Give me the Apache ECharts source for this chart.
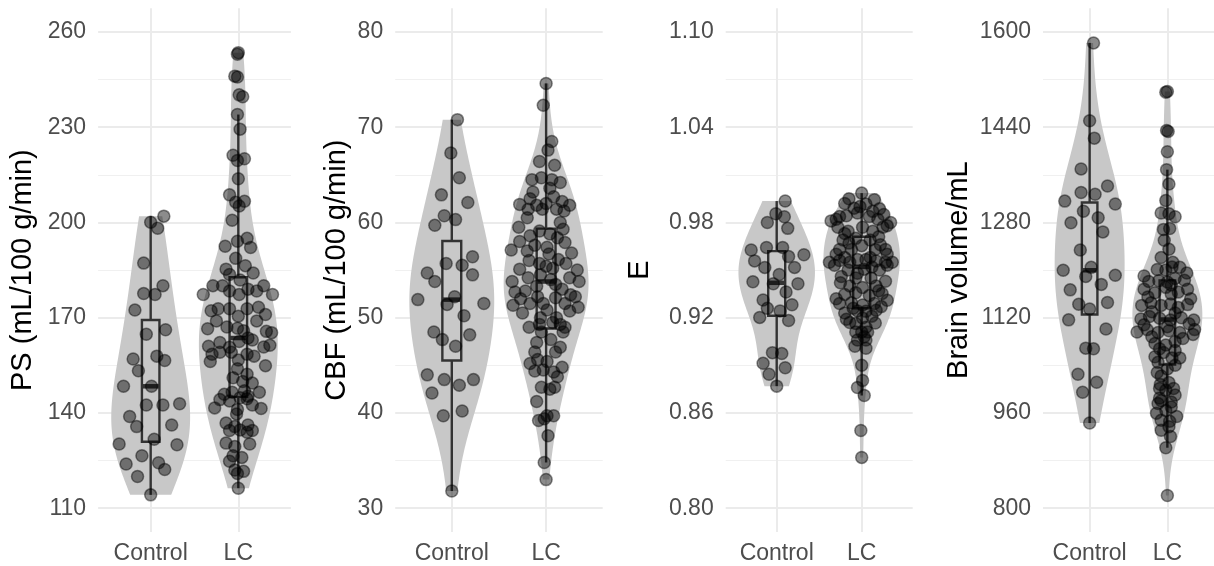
<!DOCTYPE html>
<html><head><meta charset="utf-8">
<script src="https://cdn.jsdelivr.net/npm/echarts@6/dist/echarts.min.js"></script>
<style>html,body{margin:0;padding:0;background:#fff}#c{width:1214px;height:566px}</style>
</head><body><div id="c"></div>
<script>
// ---------------- data ----------------
const categories = ['Control', 'LC'];

const psTicks = [110, 140, 170, 200, 230, 260];
const cbfTicks = [30, 40, 50, 60, 70, 80];
const eTicks = [0.80, 0.86, 0.92, 0.98, 1.04, 1.10];
const bvTicks = [800, 960, 1120, 1280, 1440, 1600];

const psTitle = 'PS (mL/100 g/min)';
const cbfTitle = 'CBF (mL/100 g/min)';
const eTitle = 'E';
const bvTitle = 'Brain volume/mL';

// PS
const psControl = [200.1,202.0,198.2,187.2,177.6,177.3,180.1,172.4,166.2,164.8,157.0,153.3,157.9,156.5,148.4,148.4,142.5,142.5,142.9,138.9,135.7,136.2,131.7,130.2,130.0,126.5,123.9,124.3,122.2,120.0,114.2];
const psControlJitter = [0,0.15,0.08,-0.08,-0.08,0.05,0.14,-0.18,0.17,-0.05,-0.2,-0.14,0.07,0.16,-0.31,0.01,-0.05,0.14,0.33,-0.24,-0.16,0.24,0.04,-0.36,0.3,-0.1,-0.28,0.09,0.16,-0.15,0];
const psLC = [253.5,253.0,246.1,245.8,240.2,239.6,234.0,229.4,221.2,219.5,220.1,213.8,208.7,206.4,206.7,205.2,200.7,192.5,194.1,195.0,192.1,188.7,185.3,186.4,184.1,183.6,181.9,177.3,180.1,180.1,178.4,177.3,179.0,178.4,180.1,177.3,172.2,172.8,172.8,170.5,172.8,173.3,171.0,169.0,166.5,167.1,166.7,165.9,169.0,165.7,165.3,163.0,161.0,162.2,160.7,162.5,163.6,160.8,161.3,158.5,159.1,159.1,158.5,157.9,156.2,156.7,154.9,153.9,152.2,151.1,149.9,149.4,145.9,146.5,147.0,145.3,146.5,144.2,143.8,144.8,144.5,142.5,141.4,141.6,141.1,139.7,136.8,135.7,136.2,134.5,134.6,134.5,133.9,130.5,129.4,130.2,126.5,126.0,124.8,122.0,121.6,120.9,116.3];
const psLCJitter = [0,-0.01,-0.04,-0.01,0.01,0.05,-0.01,0.02,-0.06,-0.01,0.07,0,-0.1,-0.03,0.07,0.01,-0.07,-0.15,-0.01,0.1,0.14,-0.03,-0.14,0.08,0.17,-0.1,0.02,-0.4,-0.29,-0.18,-0.1,0.01,0.11,0.21,0.29,0.39,-0.31,-0.23,-0.1,0,0.1,0.23,0.31,-0.25,-0.35,-0.13,-0.01,0.06,0.21,0.32,0.38,0.16,-0.34,-0.21,-0.1,0.01,0.11,0.29,0.36,-0.3,-0.21,-0.08,0.1,0.18,-0.32,0,0.31,-0.01,0.1,-0.06,0.05,0.16,-0.16,-0.07,0.07,0.11,0.24,-0.21,-0.1,0.02,0.1,0.16,0.26,-0.27,-0.01,-0.02,-0.14,-0.04,0.11,0.16,0.02,-0.1,0.1,-0.14,-0.04,0.13,-0.06,0.04,-0.1,-0.04,0.06,-0.01,0];

// CBF
const cbfControl = [70.8,67.3,64.7,62.9,62.1,60.7,60.3,59.7,56.4,55.7,55.5,54.7,54.5,53.8,51.9,51.5,52.2,51.4,50.2,48.5,47.7,48.2,47.0,44.0,43.5,43.5,42.9,42.1,39.7,40.2,31.8];
const cbfControlJitter = [0.06,-0.01,0.08,-0.11,0.17,-0.08,0.04,-0.18,0.22,-0.06,0.11,-0.26,0.22,-0.18,-0.36,0.34,0.03,-0.05,0.13,-0.19,-0.1,0.19,0.04,-0.26,0.23,-0.08,0.08,-0.21,-0.09,0.11,0];
const cbfLC = [74.6,72.3,68.5,67.6,66.4,66.0,64.5,64.7,64.5,64.2,63.6,61.9,62.5,61.8,62.0,62.7,62.2,61.8,61.4,61.4,61.4,61.2,59.5,58.6,59.1,58.8,59.3,58.4,57.6,57.4,57.1,56.8,56.7,56.0,55.7,56.1,55.7,55.1,55.2,55.0,53.8,54.2,54.5,54.0,54.2,53.8,52.7,52.8,52.2,53.0,52.4,51.3,52.0,51.5,51.5,52.1,51.5,52.2,51.1,50.8,50.0,50.0,49.0,49.3,49.3,49.0,49.5,48.5,48.5,47.7,46.4,46.4,45.2,45.6,45.4,44.8,44.4,44.5,44.3,42.7,42.5,42.7,41.2,39.2,39.7,39.7,39.4,37.6,34.8,33.0,60.5,60.0,57.9,57.0,55.4,53.3,53.5,50.5,50.7,47.4,46.9,43.8,58.0,63.2];
const cbfLCJitter = [0,-0.03,0.06,0.02,-0.07,0.09,-0.15,-0.05,0.06,0.15,0.04,-0.28,-0.17,-0.1,0,0.08,0.17,0.25,-0.19,-0.04,0.11,0.19,-0.29,-0.17,-0.07,0.04,0.18,0.12,-0.12,0.01,-0.37,0.27,0.03,-0.18,-0.07,0.13,0.21,-0.28,0.07,0.33,-0.36,-0.19,-0.06,0.05,0.25,0.35,-0.33,-0.22,-0.09,0.17,0.26,-0.35,-0.27,-0.17,-0.03,0.1,0.2,0.31,0.34,0.01,-0.06,0.11,-0.18,-0.07,0.15,0.2,0.07,-0.05,0.18,0.05,-0.12,0.1,-0.17,-0.09,0.01,0.17,-0.12,-0.03,0.08,-0.05,0.04,0.09,-0.1,-0.08,0.01,0.08,-0.02,0.02,-0.02,0,-0.2,0.15,0.2,-0.2,0,-0.1,0.1,-0.25,0.25,-0.1,0.15,0.12,-0.28,-0.14];

// E
const eControl = [0.9935,0.9855,0.980,0.9836,0.9763,0.9627,0.9643,0.9643,0.9597,0.9558,0.9585,0.9517,0.9517,0.9426,0.9414,0.9472,0.9414,0.9362,0.9312,0.9282,0.9259,0.9202,0.9243,0.9182,0.898,0.8974,0.8913,0.8885,0.8844,0.8769];
const eControlJitter = [0.1,-0.01,-0.11,0.09,0.13,-0.3,-0.12,0.07,0.32,-0.26,0.14,-0.14,0.21,-0.28,-0.04,0.03,0.25,0.11,-0.16,0.18,-0.11,-0.2,0.04,0.14,-0.05,0.06,-0.16,0.1,-0.09,0];
const eLC = [0.9985,0.995,0.9944,0.989,0.9916,0.9887,0.981,0.9837,0.9842,0.986,0.9837,0.982,0.985,0.980,0.977,0.9745,0.977,0.9745,0.977,0.970,0.969,0.969,0.963,0.963,0.9654,0.963,0.963,0.955,0.956,0.955,0.9567,0.9567,0.9558,0.955,0.955,0.950,0.9506,0.950,0.946,0.945,0.945,0.940,0.939,0.940,0.9346,0.9357,0.934,0.9353,0.929,0.9294,0.928,0.929,0.927,0.923,0.9243,0.924,0.9247,0.919,0.9198,0.9164,0.914,0.9167,0.911,0.911,0.911,0.906,0.906,0.908,0.902,0.9008,0.890,0.8805,0.876,0.871,0.849,0.832,0.982,0.978,0.973,0.971,0.967,0.966,0.960,0.960,0.958,0.958,0.953,0.953,0.952,0.948,0.943,0.942,0.937,0.932,0.931,0.926,0.921,0.917,0.990,0.992,0.987];
const eLCJitter = [0,-0.15,0.15,-0.09,0.05,0.21,-0.36,-0.26,-0.18,-0.05,0.09,0.19,0.26,0.34,-0.28,-0.16,0.01,0.13,0.25,-0.07,0.1,-0.22,-0.26,-0.12,0,0.16,0.28,-0.38,-0.26,-0.14,-0.05,0.05,0.17,0.28,0.36,-0.16,0.03,0.21,-0.24,-0.07,0.11,-0.14,0.01,0.17,-0.2,-0.07,0.09,0.24,-0.26,-0.12,0.01,0.15,0.23,-0.2,-0.05,0.05,0.17,-0.18,0.01,-0.07,0.05,0.16,0,0.07,-0.07,-0.05,0.05,0.03,-0.08,0.05,0,0.01,-0.05,0.03,-0.01,0,-0.3,0.3,-0.2,0.2,-0.15,0.22,-0.3,0.3,-0.2,0.1,-0.32,0.3,0.12,-0.05,0.28,-0.25,0.2,-0.3,0.3,-0.1,0.12,-0.14,-0.02,-0.2,0.13];

// Brain volume
const bvControl = [1581.7,1451,1421.7,1370,1341.4,1330.5,1327.4,1315.9,1311,1298.9,1279.4,1287.9,1264.2,1233.8,1204.6,1199.7,1191.2,1189.4,1166.8,1176,1142.5,1145.5,1134.6,1116.4,1101.1,1068.9,1067.7,1025.1,1011.7,994.7,943];
const bvControlJitter = [0.05,0,0.06,-0.11,0.23,-0.11,0.07,-0.32,0.33,-0.08,-0.24,0.11,0.17,-0.12,0.02,-0.34,0.33,-0.05,-0.25,0.15,-0.14,0.23,0,-0.27,0.21,-0.05,0.05,-0.15,0.09,-0.09,0];
const bvLC = [1500,1499,1434.5,1433,1399,1368.8,1344.5,1317,1296,1294.6,1289.7,1268.4,1235,1221,1201,1200,1205,1204.6,1181,1182,1186,1183,1168,1171,1162,1163,1168,1140.7,1145,1140.7,1143,1137,1142,1118,1122,1119,1116,1120,1116,1096,1100,1095,1098,1095,1092,1076.8,1074,1080,1054.3,1061.6,1052.5,1052.5,1028,1034,1022,1008,1011,1001,1001,998,980.7,978.3,976,959.4,954,964,947.8,946,930.8,937,920.5,901.6,821.3,1190,1195,1175,1155,1152,1130,1128,1108,1110,1105,1088,1085,1065,1068,1045,1040,990,985,970,1270,1213,1250,1180,1160,1100];
const bvLCJitter = [0,-0.02,-0.01,0.01,0,-0.01,0.02,-0.02,-0.08,0.02,0.1,-0.05,0.02,-0.08,-0.13,-0.02,0.06,0.16,-0.24,-0.11,0.1,0.22,-0.3,-0.02,-0.16,0.14,0.26,-0.33,-0.21,-0.08,0.04,0.14,0.26,-0.34,-0.23,-0.1,0.04,0.18,0.34,-0.39,-0.26,-0.12,0.02,0.16,0.33,-0.16,-0.02,0.1,-0.16,-0.05,0.06,0.16,-0.13,0,-0.08,-0.09,0.02,-0.1,0.08,-0.02,-0.08,0.05,-0.12,-0.14,0.12,-0.02,-0.08,0.03,-0.08,0.02,0.04,-0.02,0,-0.3,0.25,0.05,-0.25,0.3,-0.2,0.1,-0.3,0.28,0,-0.2,0.2,0.1,-0.1,-0.12,0.1,0.1,-0.1,0.05,0.03,0.07,-0.04,0,0.05,0.35];

// ---------------- layout / style ----------------
const panels = [
  { title: psTitle, ticks: psTicks, ctrl: psControl, ctrlJ: psControlJitter, lc: psLC, lcJ: psLCJitter, left: 98.1, width: 192.8, nameGap: 61, dec: 0 },
  { title: cbfTitle, ticks: cbfTicks, ctrl: cbfControl, ctrlJ: cbfControlJitter, lc: cbfLC, lcJ: cbfLCJitter, left: 395.2, width: 207.5, nameGap: 44, dec: 0 },
  { title: eTitle, ticks: eTicks, ctrl: eControl, ctrlJ: eControlJitter, lc: eLC, lcJ: eLCJitter, left: 725.7, width: 187, nameGap: 71, dec: 2 },
  { title: bvTitle, ticks: bvTicks, ctrl: bvControl, ctrlJ: bvControlJitter, lc: bvLC, lcJ: bvLCJitter, left: 1043, width: 180.4, nameGap: 70, dec: 0 }
];
const FONT = "'Liberation Sans', Arial, sans-serif";
const GRID_TOP = 8.2, GRID_BOTTOM = 34;
const VIOLIN_FILL = '#c8c8c8';
const BOX_COLOR = '#333333';
const POINT_FILL = 'rgba(0,0,0,0.45)';
const BW_ADJUST = 1.25;

// ---------------- stats helpers ----------------
function quantile(sorted, p) {
  const h = (sorted.length - 1) * p, lo = Math.floor(h), hi = Math.ceil(h);
  return sorted[lo] + (h - lo) * (sorted[hi] - sorted[lo]);
}
function boxStats(vals) {
  const s = vals.slice().sort((a, b) => a - b);
  const q1 = quantile(s, 0.25), med = quantile(s, 0.5), q3 = quantile(s, 0.75);
  const iqr = q3 - q1;
  const lowF = q1 - 1.5 * iqr, hiF = q3 + 1.5 * iqr;
  const lo = s.find(v => v >= lowF);
  const hi = s.slice().reverse().find(v => v <= hiF);
  return { q1, med, q3, lo, hi };
}
function violinShape(vals) {
  const s = vals.slice().sort((a, b) => a - b);
  const n = s.length;
  const mean = s.reduce((a, b) => a + b, 0) / n;
  const sd = Math.sqrt(s.reduce((a, b) => a + (b - mean) * (b - mean), 0) / (n - 1));
  const iqr = quantile(s, 0.75) - quantile(s, 0.25);
  let lo = Math.min(sd, iqr / 1.34);
  if (!(lo > 0)) lo = sd;
  const bw = BW_ADJUST * 0.9 * lo * Math.pow(n, -0.2);
  const min = s[0], max = s[n - 1];
  const N = 256, pts = [];
  let dmax = 0;
  for (let i = 0; i < N; i++) {
    const y = min + (max - min) * i / (N - 1);
    let d = 0;
    for (const v of s) { const z = (y - v) / bw; d += Math.exp(-0.5 * z * z); }
    pts.push([y, d]);
    if (d > dmax) dmax = d;
  }
  return pts.map(([y, d]) => [y, d / dmax * 0.45]);
}

// ---------------- build option ----------------
const grid = [], xAxis = [], yAxis = [], series = [];
panels.forEach((p, i) => {
  const t0 = p.ticks[0], t1 = p.ticks[p.ticks.length - 1];
  const ext = (t1 - t0) * 0.05;
  const step = p.ticks[1] - p.ticks[0];
  const minors = p.ticks.slice(0, -1).map(t => t + step / 2);
  grid.push({ left: p.left, width: p.width, top: GRID_TOP, bottom: GRID_BOTTOM, containLabel: false });
  xAxis.push({
    type: 'value', gridIndex: i, min: 0.4, max: 2.6,
    axisLine: { show: false },
    axisTick: { show: false, customValues: [1, 2] },
    axisLabel: { customValues: [1, 2], formatter: v => categories[Math.round(v) - 1], color: '#4d4d4d', fontSize: 23, fontFamily: FONT, margin: 10 },
    splitLine: { show: true, lineStyle: { color: '#ebebeb', width: 2 } }
  });
  yAxis.push({
    type: 'value', gridIndex: i, min: t0 - ext, max: t1 + ext,
    name: p.title, nameLocation: 'middle', nameGap: p.nameGap,
    nameTextStyle: { color: '#000', fontSize: 29, fontFamily: FONT },
    axisLine: { show: false },
    axisTick: { show: false, customValues: p.ticks },
    axisLabel: { customValues: p.ticks, formatter: v => Number(v).toFixed(p.dec), color: '#4d4d4d', fontSize: 23, fontFamily: FONT, margin: 12 },
    splitLine: { show: true, lineStyle: { color: '#ebebeb', width: 2 } }
  });
  yAxis.push({
    type: 'value', gridIndex: i, min: t0 - ext, max: t1 + ext,
    axisLine: { show: false },
    axisTick: { show: false, customValues: minors },
    axisLabel: { show: false },
    splitLine: { show: true, lineStyle: { color: '#f0f0f0', width: 1.2 } }
  });
  const groups = [[p.ctrl, p.ctrlJ], [p.lc, p.lcJ]];
  groups.forEach(([vals, jit], k) => {
    const pos = k + 1;
    const shape = violinShape(vals);
    series.push({
      type: 'custom', xAxisIndex: i, yAxisIndex: 2 * i, silent: true, z: 1,
      data: [[pos, shape[0][0]]],
      renderItem: (params, api) => {
        const right = shape.map(([y, w]) => api.coord([pos + w, y]));
        const left = shape.slice().reverse().map(([y, w]) => api.coord([pos - w, y]));
        return { type: 'polygon', shape: { points: right.concat(left) }, style: { fill: VIOLIN_FILL, stroke: null } };
      }
    });
    const st = boxStats(vals);
    series.push({
      type: 'custom', xAxisIndex: i, yAxisIndex: 2 * i, silent: true, z: 2,
      data: [[pos, st.med]],
      renderItem: (params, api) => {
        const hw = 0.1;
        const a = api.coord([pos - hw, st.q3]), b = api.coord([pos + hw, st.q1]);
        const m1 = api.coord([pos - hw, st.med]), m2 = api.coord([pos + hw, st.med]);
        const wTop = api.coord([pos, st.hi]), wQ3 = api.coord([pos, st.q3]);
        const wQ1 = api.coord([pos, st.q1]), wBot = api.coord([pos, st.lo]);
        const ls = { stroke: BOX_COLOR, lineWidth: 2.4, fill: null };
        return {
          type: 'group', children: [
            { type: 'line', shape: { x1: wTop[0], y1: wTop[1], x2: wQ3[0], y2: wQ3[1] }, style: ls },
            { type: 'line', shape: { x1: wQ1[0], y1: wQ1[1], x2: wBot[0], y2: wBot[1] }, style: ls },
            { type: 'rect', shape: { x: a[0], y: a[1], width: b[0] - a[0], height: b[1] - a[1] }, style: ls },
            { type: 'line', shape: { x1: m1[0], y1: m1[1], x2: m2[0], y2: m2[1] }, style: { stroke: BOX_COLOR, lineWidth: 4.5 } }
          ]
        };
      }
    });
    series.push({
      type: 'scatter', xAxisIndex: i, yAxisIndex: 2 * i, silent: true, z: 3,
      symbol: 'circle', symbolSize: 12,
      itemStyle: { color: POINT_FILL, borderColor: 'rgba(0,0,0,0.45)', borderWidth: 1.5, opacity: 1 },
      data: vals.map((v, j) => [pos + jit[j], v])
    });
  });
});

const chart = echarts.init(document.getElementById('c'), null, { renderer: 'canvas' });
chart.setOption({ animation: false, backgroundColor: '#fff', grid, xAxis, yAxis, series });
</script></body></html>
